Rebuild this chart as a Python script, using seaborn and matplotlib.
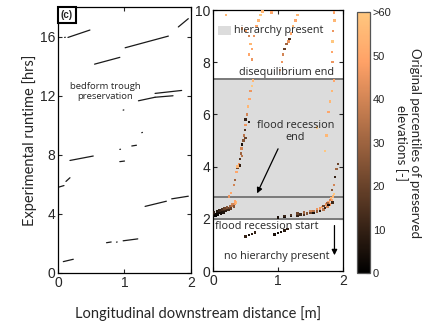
import numpy as np
import pandas as pd
import matplotlib
matplotlib.use("Agg")
import matplotlib.pyplot as plt
import seaborn as sns
from matplotlib.colors import Normalize
from matplotlib.cm import ScalarMappable

sns.set_style("ticks")
plt.rcParams['font.family'] = ['Liberation Sans', 'DejaVu Sans']

# ---------------- data ----------------
# Left panel: bedform trough preservation segments (x in m, y in hrs)
left_x0 = [0.08, 0.73, 0.98, 0.88, 0.00, 0.12, 0.18, 0.93, 0.93, 1.11, 1.31, 1.71,
           1.26, 0.98, 1.21, 1.46, 1.46, 0.55, 1.01, 1.81, 0.15, 0.10]
left_x1 = [0.23, 0.80, 1.20, 0.89, 0.09, 0.18, 0.53, 1.00, 0.94, 1.18, 1.63, 1.96,
           1.27, 0.99, 1.46, 1.73, 1.86, 0.93, 1.66, 1.96, 0.48, 0.11]
left_y0 = [0.77, 2.05, 2.18, 2.09, 5.80, 6.20, 7.62, 7.54, 8.37, 8.60, 4.51, 5.02,
           9.50, 11.03, 11.66, 11.90, 12.16, 14.14, 15.25, 16.66, 15.95, 15.95]
left_y1 = [0.93, 2.10, 2.31, 2.10, 5.92, 6.45, 7.92, 7.58, 8.38, 8.65, 4.86, 5.20,
           9.52, 11.04, 11.90, 12.00, 12.36, 14.60, 16.04, 17.22, 16.45, 15.96]

# Right panel: preserved elevations (x in m, y in hrs, original percentile)
right_x = [0.00, 0.03, 0.06, 0.09, 0.12, 0.15, 0.18, 0.21, 0.24, 0.27, 0.30, 0.33, 0.35,
           0.02, 0.06, 0.10, 0.14, 0.18, 0.22, 0.26, 0.30, 0.34,
           0.00, 0.04, 0.08, 0.12, 0.16, 0.20, 0.24, 0.28, 0.32,
           1.00, 1.10, 1.20, 1.30, 1.40, 1.50, 1.60, 1.70, 1.76, 1.80, 1.83, 1.85,
           1.30, 1.40, 1.50, 1.60, 1.68, 1.74, 1.78, 1.82, 1.86,
           1.55, 1.65, 1.72, 1.78, 1.84,
           1.10, 1.20, 1.35, 1.45, 1.55, 1.65, 1.70, 1.76, 1.80,
           0.50, 0.55, 0.60, 0.65, 0.95, 1.00, 1.05, 1.10, 1.15,
           0.25, 0.28, 0.32, 0.34, 0.36, 0.38, 0.40, 0.42, 0.43, 0.44, 0.45, 0.47, 0.48,
           0.49, 0.50, 0.50, 0.52, 0.54, 0.56, 0.58, 0.60, 0.62, 0.38, 0.45, 0.42, 0.50, 0.55,
           1.83, 1.86, 1.88, 1.90, 1.92, 1.75, 1.72, 1.78, 1.80, 1.83, 1.86, 1.60,
           0.45, 0.50, 0.55, 0.58, 0.60, 0.63, 0.67, 0.70, 0.73, 0.76, 0.55, 0.60,
           1.03, 1.06, 1.08, 1.10, 1.13, 1.16, 1.18, 1.20, 1.23, 1.27, 1.30,
           1.86, 1.87, 1.85, 1.84, 1.83, 1.84, 0.20, 0.90]
right_y = [2.15, 2.18, 2.20, 2.23, 2.26, 2.30, 2.33, 2.37, 2.41, 2.45, 2.50, 2.56, 2.62,
           2.25, 2.28, 2.32, 2.36, 2.40, 2.44, 2.50, 2.56, 2.66,
           2.10, 2.12, 2.16, 2.20, 2.24, 2.29, 2.34, 2.39, 2.47,
           2.05, 2.08, 2.10, 2.13, 2.17, 2.22, 2.28, 2.36, 2.45, 2.55, 2.70, 2.85,
           2.20, 2.25, 2.30, 2.37, 2.45, 2.55, 2.65, 2.80, 2.95,
           2.25, 2.32, 2.42, 2.52, 2.62,
           2.12, 2.15, 2.17, 2.21, 2.30, 2.40, 2.50, 2.60, 2.72,
           1.33, 1.38, 1.43, 1.47, 1.40, 1.45, 1.50, 1.55, 1.60,
           2.85, 3.00, 3.30, 3.50, 3.80, 3.95, 4.10, 4.30, 4.50, 4.70, 4.85, 5.00, 5.20,
           5.40, 5.60, 5.80, 6.00, 6.30, 6.60, 6.90, 7.10, 7.30, 4.00, 4.40, 4.05, 5.10, 5.70,
           3.10, 3.30, 3.60, 3.90, 4.10, 5.20, 4.60, 6.10, 6.50, 6.90, 7.30, 5.50,
           9.30, 9.20, 9.00, 8.70, 8.50, 9.00, 9.40, 9.60, 9.80, 9.95, 8.30, 8.10,
           7.70, 8.00, 8.30, 8.50, 8.70, 8.80, 8.90, 9.10, 9.40, 9.60, 9.80,
           9.90, 9.60, 9.20, 8.80, 8.40, 8.00, 9.80, 9.90]
right_pct = [5, 3, 2, 4, 6, 10, 12, 15, 20, 28, 35, 45, 55,
             8, 6, 10, 14, 20, 25, 30, 40, 50,
             2, 1, 3, 4, 6, 8, 12, 18, 25,
             5, 4, 6, 10, 15, 20, 28, 35, 40, 45, 50, 55,
             20, 30, 40, 45, 50, 45, 50, 55, 60,
             5, 8, 10, 5, 12,
             10, 15, 12, 25, 35, 45, 20, 30, 40,
             10, 5, 8, 10, 5, 3, 5, 8, 10,
             45, 50, 40, 30, 50, 20, 45, 15, 30, 40, 5, 25, 35,
             15, 45, 10, 40, 55, 50, 45, 60, 55, 55, 35, 10, 20, 5,
             25, 40, 10, 30, 20, 55, 60, 50, 55, 55, 50, 60,
             45, 50, 40, 55, 50, 45, 50, 55, 60, 55, 50, 45,
             50, 45, 40, 20, 30, 45, 15, 50, 55, 50, 55,
             50, 55, 45, 60, 50, 45, 55, 50]

# event times (hrs)
flood_recession_start = 2.0
flood_recession_end = 2.85
disequilibrium_end = 7.35

cbar_ticks = [0, 10, 20, 30, 40, 50, 60]
cbar_ticklabels = ['0', '10', '20', '30', '40', '50', '>60']

# ---------------- figure ----------------
fig = plt.figure(figsize=(4.36, 3.25), dpi=100)
axL = fig.add_axes([0.133, 0.160, 0.305, 0.818])
axR = fig.add_axes([0.4885, 0.166, 0.298, 0.803])
cax = fig.add_axes([0.819, 0.160, 0.0298, 0.803])

label_font = ['Lato', 'DejaVu Sans']
ann_font = ['Open Sans', 'DejaVu Sans']

# Left panel
seg_rows = []
for i, (a, b, c, d) in enumerate(zip(left_x0, left_x1, left_y0, left_y1)):
    seg_rows.append((i, a, c))
    seg_rows.append((i, b, d))
seg_df = pd.DataFrame(seg_rows, columns=['seg', 'x', 'y'])
sns.lineplot(data=seg_df, x='x', y='y', units='seg', estimator=None, color='#1a1a1a',
             lw=0.9, ax=axL, legend=False, sort=False)
axL.set_xlim(0, 2)
axL.set_ylim(0, 18)
axL.set_xticks([0, 1, 2])
axL.set_yticks([0, 4, 8, 12, 16])
axL.set_xlabel('')
axL.set_ylabel('Experimental runtime [hrs]', fontsize=10.5, family=label_font, labelpad=2)
axL.text(0.71, 12.3, 'bedform trough\npreservation', ha='center', va='center',
         fontsize=6.8, family=ann_font, linespacing=1.1)
axL.text(0.04, 17.8, '(c)', ha='left', va='top', fontsize=7, fontweight='bold',
         bbox=dict(boxstyle='square,pad=0.3', fc='white', ec='black', lw=1.5))

# Right panel
axR.axhspan(flood_recession_start, disequilibrium_end, color='#dcdcdc', lw=0, zorder=0)
for yv in [flood_recession_start, flood_recession_end, disequilibrium_end]:
    axR.axhline(yv, color='#7a7a7a', lw=1.4, zorder=1)
r_df = pd.DataFrame({'x': right_x, 'y': right_y, 'p': right_pct})
sns.scatterplot(data=r_df, x='x', y='y', hue='p', palette='copper', hue_norm=(0, 60),
                marker='s', s=3, linewidth=0, legend=False, ax=axR, zorder=3)
axR.set_xlim(0, 2)
axR.set_ylim(0, 10)
axR.set_xticks([0, 1, 2])
axR.set_yticks([0, 2, 4, 6, 8, 10])
axR.set_xlabel('')
axR.set_ylabel('')

axR.add_patch(plt.Rectangle((0.08, 9.03), 0.19, 0.36, fc='#dcdcdc', ec='none', zorder=2))
axR.text(0.33, 9.21, 'hierarchy present', ha='left', va='center', fontsize=7.8, family=ann_font)
axR.text(1.13, 7.62, 'disequilibrium end', ha='center', va='center', fontsize=7.8, family=ann_font)
axR.text(1.27, 5.35, 'flood recession\nend', ha='center', va='center', fontsize=7.8,
         family=ann_font, linespacing=1.2)
axR.annotate('', xy=(0.66, 2.88), xytext=(1.02, 4.78),
             arrowprops=dict(arrowstyle='-|>', color='black', lw=0.9, mutation_scale=8))
axR.text(0.83, 1.72, 'flood recession start', ha='center', va='center', fontsize=7.8, family=ann_font)
axR.text(0.98, 0.57, 'no hierarchy present', ha='center', va='center', fontsize=7.8, family=ann_font)
axR.annotate('', xy=(1.87, 0.5), xytext=(1.87, 1.85),
             arrowprops=dict(arrowstyle='-|>', color='black', lw=0.9, mutation_scale=8))

for ax in (axL, axR):
    ax.tick_params(direction='in', top=True, right=True, length=3, width=0.8,
                   labelsize=10, pad=2)
    for s in ax.spines.values():
        s.set_linewidth(0.9)
        s.set_color('black')

fig.text(0.455, 0.035, 'Longitudinal downstream distance [m]', ha='center', va='center',
         fontsize=10.5, family=label_font)

# Colorbar
sm = ScalarMappable(norm=Normalize(0, 60), cmap='copper')
cb = fig.colorbar(sm, cax=cax, ticks=cbar_ticks)
cb.ax.set_yticklabels(cbar_ticklabels)
cb.ax.tick_params(direction='in', length=3, labelsize=8, pad=2)
cb.outline.set_linewidth(0.9)
cb.outline.set_edgecolor('#555555')
cb.set_label('Original percentiles of preserved\nelevations [-]', rotation=270,
             fontsize=9.5, family=label_font, labelpad=21, linespacing=1.1)

fig.savefig('out.png', dpi=100)
